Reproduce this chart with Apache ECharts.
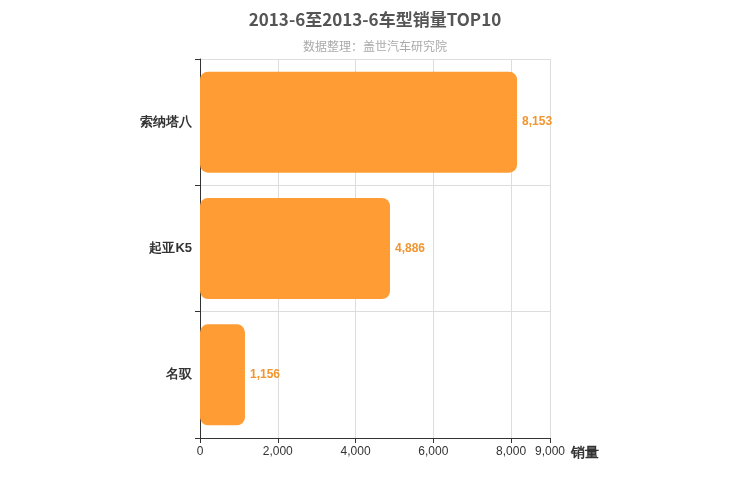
<!DOCTYPE html>
<html><head><meta charset="utf-8">
<script src="https://cdn.jsdelivr.net/npm/echarts@6/dist/echarts.min.js"></script>
<style>html,body{margin:0;padding:0}#c{width:750px;height:500px}</style>
</head><body><div id="c"></div>
<script>
const categories = ['名驭', '起亚K5', '索纳塔八'];
const sales = [1156, 4886, 8153];
const chart = echarts.init(document.getElementById('c'));
chart.setOption({
  animation: false,
  title: {
    text: '2013-6至2013-6车型销量TOP10', left: 'center', top: 6,
    textStyle: {fontSize: 17, fontWeight: 'bold', color: '#555', fontFamily: 'Noto Sans CJK SC'},
    subtext: '数据整理：盖世汽车研究院',
    subtextStyle: {fontSize: 12, color: '#aaa', fontFamily: 'Noto Sans CJK SC'},
    itemGap: 12
  },
  grid: {left: 200, right: 200, top: 59, bottom: 62},
  xAxis: {
    type: 'value', min: 0, max: 9000, interval: 2000,
    name: '销量', nameLocation: 'end', nameGap: 15,
    nameTextStyle: {fontSize: 14, fontWeight: 'bold', color: '#333', verticalAlign: 'top', padding: [8,0,0,0]},
    axisLine: {show: true, lineStyle: {color: '#333'}},
    axisTick: {show: true},
    axisLabel: {color: '#333', fontSize: 12, showMaxLabel: true},
    splitLine: {show: true, lineStyle: {color: '#ddd'}}
  },
  yAxis: {
    type: 'category', data: categories,
    axisLine: {show: true, lineStyle: {color: '#333'}},
    axisTick: {show: true},
    axisLabel: {color: '#333', fontSize: 13, fontWeight: 'bold'},
    splitLine: {show: true, lineStyle: {color: '#ddd'}}
  },
  series: [{
    type: 'bar', data: sales, barWidth: '80%',
    itemStyle: {color: '#ff9c33', borderRadius: 8},
    label: {show: true, position: 'right', color: '#f0952f', fontSize: 12, fontWeight: 'bold',
      formatter: p => p.value.toLocaleString('en-US')}
  }]
});
</script></body></html>
